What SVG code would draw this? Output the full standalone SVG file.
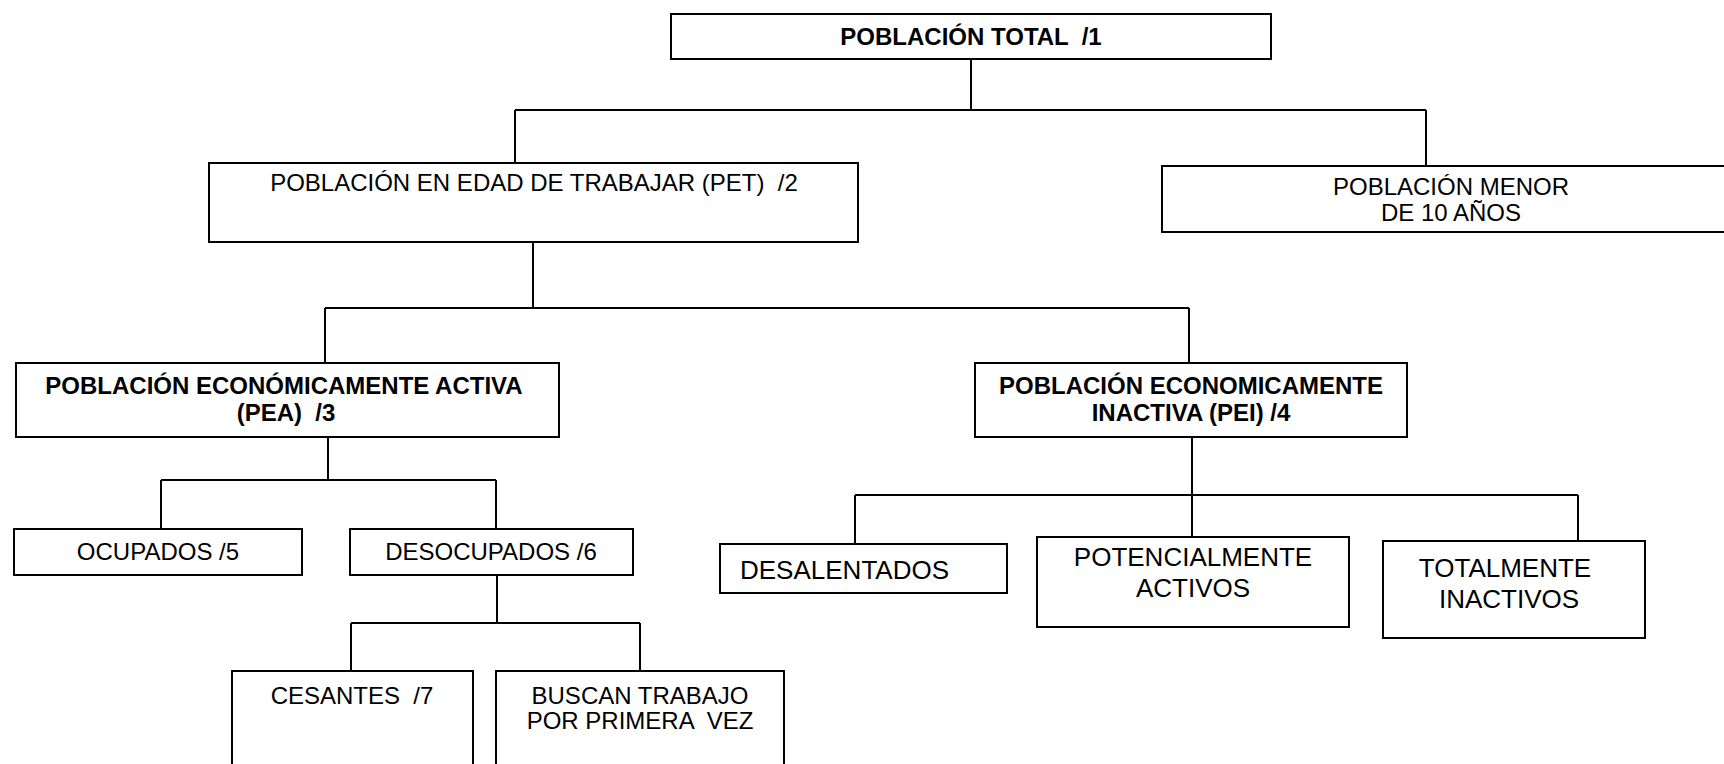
<svg xmlns="http://www.w3.org/2000/svg" width="1724" height="764" viewBox="0 0 1724 764">
<style>
.box{fill:#fff;stroke:#000;stroke-width:2}
.c{fill:none;stroke:#000;stroke-width:2}
text{font-family:"Liberation Sans",Arial,sans-serif;font-size:24px;fill:#000;text-anchor:middle}
.b{font-weight:bold}
.l{font-size:26px}
</style>
<rect width="1724" height="764" fill="#fff"/>
<g id="connectors">
<path class="c" d="M971 59V110M515 110H1426M515 110V163M1426 110V166"/>
<path class="c" d="M533 234V308M325 308H1189M325 308V363M1189 308V363"/>
<path class="c" d="M328 429V480M161 480H496M161 480V529M496 480V529"/>
<path class="c" d="M497 575V623M351 623H640M351 623V671M640 623V671"/>
<path class="c" d="M1192 437V537M855 495H1578M855 495V544M1578 495V541"/>
</g>
<g id="total">
<rect class="box" x="671" y="14" width="600" height="45"/>
<text class="b" x="971" y="45" xml:space="preserve">POBLACIÓN TOTAL  /1</text>
</g>
<g id="pet">
<rect class="box" x="209" y="163" width="649" height="79"/>
<text x="534" y="191" xml:space="preserve">POBLACIÓN EN EDAD DE TRABAJAR (PET)  /2</text>
</g>
<g id="menor">
<rect class="box" x="1162" y="166" width="600" height="66"/>
<text x="1451" y="195">POBLACIÓN MENOR</text>
<text x="1451" y="221">DE 10 AÑOS</text>
</g>
<g id="pea">
<rect class="box" x="16" y="363" width="543" height="74"/>
<text class="b" x="284" y="394">POBLACIÓN ECONÓMICAMENTE ACTIVA</text>
<text class="b" x="286" y="421" xml:space="preserve">(PEA)  /3</text>
</g>
<g id="pei">
<rect class="box" x="975" y="363" width="432" height="74"/>
<text class="b" x="1191" y="394">POBLACIÓN ECONOMICAMENTE</text>
<text class="b" x="1191" y="421">INACTIVA (PEI) /4</text>
</g>
<g id="ocupados">
<rect class="box" x="14" y="529" width="288" height="46"/>
<text x="158" y="560">OCUPADOS /5</text>
</g>
<g id="desocupados">
<rect class="box" x="350" y="529" width="283" height="46"/>
<text x="491" y="560">DESOCUPADOS /6</text>
</g>
<g id="cesantes">
<rect class="box" x="232" y="671" width="241" height="120"/>
<text x="352" y="704" xml:space="preserve">CESANTES  /7</text>
</g>
<g id="buscan">
<rect class="box" x="496" y="671" width="288" height="120"/>
<text x="640" y="704">BUSCAN TRABAJO</text>
<text x="640" y="729" xml:space="preserve">POR PRIMERA  VEZ</text>
</g>
<g id="desalentados">
<rect class="box" x="720" y="544" width="287" height="49"/>
<text class="l" x="740" y="579" style="text-anchor:start">DESALENTADOS</text>
</g>
<g id="potencialmente">
<rect class="box" x="1037" y="537" width="312" height="90"/>
<text class="l" x="1193" y="566">POTENCIALMENTE</text>
<text class="l" x="1193" y="597">ACTIVOS</text>
</g>
<g id="totalmente">
<rect class="box" x="1383" y="541" width="262" height="97"/>
<text class="l" x="1505" y="577">TOTALMENTE</text>
<text class="l" x="1509" y="608">INACTIVOS</text>
</g>
</svg>
